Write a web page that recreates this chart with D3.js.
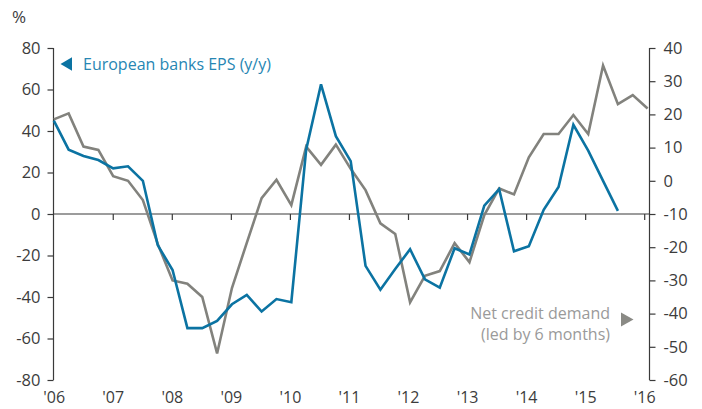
<!DOCTYPE html>
<html>
<head>
<meta charset="utf-8">
<script src="https://cdn.jsdelivr.net/npm/d3@7"></script>
<style>
  html, body { margin: 0; padding: 0; background: #fff; }
  svg { display: block; }
  text { font-family: "Open Sans", "Noto Sans", sans-serif; }
</style>
</head>
<body>
<svg id="chart" width="702" height="409"></svg>
<script>
// Quarterly observations, Q1 2006 onwards
const epsGrowth = [
  45, 31, 28, 26, 22, 23, 16, -15,
  -27, -55, -55, -51.5, -43.5, -39, -47, -41,
  -42.5, 31, 62.5, 37.5, 25.5, -25, -36.5, -26.5,
  -17, -31.5, -35.5, -16.5, -19.5, 4, 12, -18,
  -15.5, 2, 13, 43, 30.5, 16, 1.5
];
const creditDemand = [
  18.5, 20.3, 10.3, 9.3, 1.4, 0, -5.8, -19,
  -30, -31, -35, -52, -32.3, -18.7, -5.2, 0.3,
  -7.3, 10.3, 4.8, 10.9, 3.6, -2.8, -12.8, -16,
  -36.6, -28.6, -27.2, -18.8, -24.5, -10.3, -2.3, -4.1,
  7.1, 14.1, 14.1, 19.8, 14.1, 34.7, 23.1, 25.8, 21.8
];
const years = [2006, 2007, 2008, 2009, 2010, 2011, 2012, 2013, 2014, 2015, 2016];
const leftTicks = [-80, -60, -40, -20, 0, 20, 40, 60, 80];
const rightTicks = [-60, -50, -40, -30, -20, -10, 0, 10, 20, 30, 40];

const svg = d3.select("#chart");
const plotLeft = 53.5, plotRight = 649.5, plotTop = 48, plotBottom = 380;

const xQuarter = d3.scaleLinear().domain([0, 40]).range([53.8, 647.6]);
const xYear = d3.scaleLinear().domain([2006, 2016]).range([54.2, 644.7]);
const yL = d3.scaleLinear().domain([-80, 80]).range([plotBottom, plotTop]);
const yR = d3.scaleLinear().domain([-60, 40]).range([plotBottom, plotTop]);

const axisColor = "#3a3a3a";
const labelColor = "#3c3c3c";
const blue = "#0b73a2";
const grey = "#82827d";

// plain hyphen for negatives
const fmt = d => String(d);

// Left and right value axes
const leftAxis = svg.append("g").attr("transform", `translate(${plotLeft},0)`)
  .call(d3.axisLeft(yL).tickValues(leftTicks).tickSize(6).tickPadding(7).tickFormat(fmt));
const rightAxis = svg.append("g").attr("transform", `translate(${plotRight},0)`)
  .call(d3.axisRight(yR).tickValues(rightTicks).tickSize(6).tickPadding(8).tickFormat(fmt));

[leftAxis, rightAxis].forEach(g => {
  g.select(".domain").remove();
  g.selectAll(".tick line").attr("stroke", axisColor).attr("stroke-width", 1.2);
  g.selectAll(".tick text").attr("fill", labelColor).style("font-size", "16.5px")
    .attr("font-family", "'Open Sans', sans-serif");
});
// axis spines stop at the outer ticks
svg.append("line").attr("x1", plotLeft).attr("x2", plotLeft)
  .attr("y1", yL(80)).attr("y2", yL(-80)).attr("stroke", axisColor).attr("stroke-width", 1.2);
svg.append("line").attr("x1", plotRight).attr("x2", plotRight)
  .attr("y1", yR(40)).attr("y2", yR(-60)).attr("stroke", axisColor).attr("stroke-width", 1.2);

// Zero line carrying the year ticks
const zeroY = yL(0);
svg.append("line").attr("x1", plotLeft).attr("x2", plotRight)
  .attr("y1", zeroY).attr("y2", zeroY).attr("stroke", axisColor).attr("stroke-width", 1.2);
svg.append("g").selectAll("line").data(years.slice(1)).join("line")
  .attr("x1", d => xYear(d)).attr("x2", d => xYear(d))
  .attr("y1", zeroY).attr("y2", zeroY + 6)
  .attr("stroke", axisColor).attr("stroke-width", 1.2);

// Year labels along the bottom
svg.append("g").selectAll("text").data(years).join("text")
  .attr("x", d => xYear(d)).attr("y", 403)
  .attr("text-anchor", "middle").attr("fill", labelColor).style("font-size", "16px")
  .text(d => "'" + String(d).slice(2));

// Unit label
svg.append("text").attr("x", 12).attr("y", 23).attr("fill", labelColor)
  .style("font-size", "17px").text("%");

// Series lines
const lineL = d3.line().x((d, i) => xQuarter(i)).y(d => yL(d));
const lineR = d3.line().x((d, i) => xQuarter(i)).y(d => yR(d));

svg.append("path").datum(creditDemand).attr("d", lineR)
  .attr("fill", "none").attr("stroke", grey).attr("stroke-width", 2.6)
  .attr("stroke-linejoin", "miter");
svg.append("path").datum(epsGrowth).attr("d", lineL)
  .attr("fill", "none").attr("stroke", blue).attr("stroke-width", 2.6)
  .attr("stroke-linejoin", "miter");

// Series labels with pointers to their axes
svg.append("path").attr("d", "M60.5,64 L72,57.3 L72,70.7 Z").attr("fill", blue);
svg.append("text").attr("x", 83).attr("y", 70).attr("fill", "#2786b3")
  .style("font-size", "16px").text("European banks EPS (y/y)");

svg.append("path").attr("d", "M633.5,319.5 L621,312.5 L621,326.5 Z").attr("fill", "#8a8a85");
svg.append("text").attr("x", 610).attr("y", 319).attr("text-anchor", "end")
  .attr("fill", "#9a9a9a").style("font-size", "16px").text("Net credit demand");
svg.append("text").attr("x", 610).attr("y", 340).attr("text-anchor", "end")
  .attr("fill", "#9a9a9a").style("font-size", "16px").text("(led by 6 months)");
</script>
</body>
</html>
